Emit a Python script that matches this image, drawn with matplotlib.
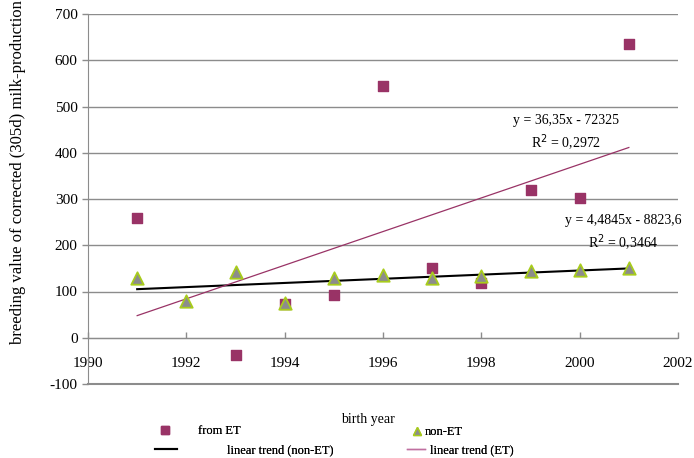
import numpy as np
import matplotlib.pyplot as plt
from matplotlib.lines import Line2D

plt.rcParams['font.family'] = ['Liberation Serif', 'DejaVu Serif']
plt.rcParams['axes.unicode_minus'] = False

# breeding values by birth year
years_et = [1991, 1993, 1994, 1995, 1996, 1997, 1998, 1999, 2000, 2001]
bv_et = [258, -37, 72, 93, 545, 150, 118, 320, 302, 636]
years_non = [1991, 1992, 1993, 1994, 1995, 1996, 1997, 1998, 1999, 2000, 2001]
bv_non = [130, 80, 143, 76, 130, 136, 130, 133, 145, 147, 150]

# trend line coefficients (slope, intercept, R^2)
trend_et = (36.35, -72325, 0.2972)
trend_non = (4.4845, -8823.6, 0.3464)

plum = '#993366'
grid_c = '#8c8c8c'
W, H = 694, 458

fig = plt.figure(figsize=(6.94, 4.58), dpi=100)
ax = fig.add_axes([88 / W, 1 - 384 / H, 590 / W, 370 / H])

ax.set_xlim(1990, 2002)
ax.set_ylim(-100, 700)
ax.set_xticks(np.arange(1990, 2003, 2))
ax.set_yticks(np.arange(-100, 701, 100))
ax.yaxis.grid(True, color=grid_c, lw=1)
ax.axhline(-100, color=grid_c, lw=1.5, clip_on=False, zorder=0)
ax.set_axisbelow(True)

for s in ['top', 'right']:
    ax.spines[s].set_visible(False)
ax.spines['left'].set_color(grid_c)
ax.spines['bottom'].set_color(grid_c)
ax.spines['bottom'].set_position(('data', 0))
ax.tick_params(axis='both', colors=grid_c, labelcolor='black', labelsize=11,
               length=4, width=1)
ax.tick_params(axis='x', direction='in', pad=14)

x = np.array([1991, 2001])
ax.plot(x, trend_non[0] * x + trend_non[1], color='black', lw=1.5, zorder=2)
ax.plot(x, trend_et[0] * x + trend_et[1], color=plum, lw=0.9, zorder=2)

ax.scatter(years_et, bv_et, marker='s', s=50, color=plum, zorder=3)
ax.scatter(years_non, bv_non, marker='^', s=80, color='#8c8c8c',
           edgecolors='#a8cc1c', linewidths=1.3, zorder=4)

ax.text(1999.72, 469, 'y = 36,35x - 72325', ha='center', va='center', fontsize=10)
ax.text(1999.72, 421, 'R$^2$ = 0,2972', ha='center', va='center', fontsize=10)
ax.text(2000.89, 253, 'y = 4,4845x - 8823,6', ha='center', va='center', fontsize=10)
ax.text(2000.89, 206, 'R$^2$ = 0,3464', ha='center', va='center', fontsize=10)

ax.set_ylabel('breeding value of corrected (305d) milk-production', fontsize=12)
ax.yaxis.set_label_coords(-0.105, 0.572)
fig.text(368 / W, 1 - 420 / H, 'birth year', ha='center', va='center', fontsize=10)

# one legend entry per spot below the axes
entries = [
    (Line2D([], [], marker='s', ls='none', color=plum, markersize=5.5),
     'from ET', 159, 431, 1.0, 2.1),
    (Line2D([], [], color='black', lw=1.5),
     'linear trend (non-ET)', 155, 450, 1.76, 4.0),
    (Line2D([], [], marker='^', ls='none', color='#8c8c8c',
            markeredgecolor='#a8cc1c', markersize=6),
     'non-ET', 411, 432, 1.0, 0.1),
    (Line2D([], [], color='#c070a0', lw=1),
     'linear trend (ET)', 407, 450, 1.44, 0.4),
]
for h, lab, px, py, hl, tp in entries:
    leg = fig.legend([h], [lab], loc='center left',
                     bbox_to_anchor=(px / W, 1 - py / H), frameon=False,
                     fontsize=9, borderpad=0, borderaxespad=0,
                     handlelength=hl, handletextpad=tp)
    fig.add_artist(leg)

fig.savefig('out.png', dpi=100)
